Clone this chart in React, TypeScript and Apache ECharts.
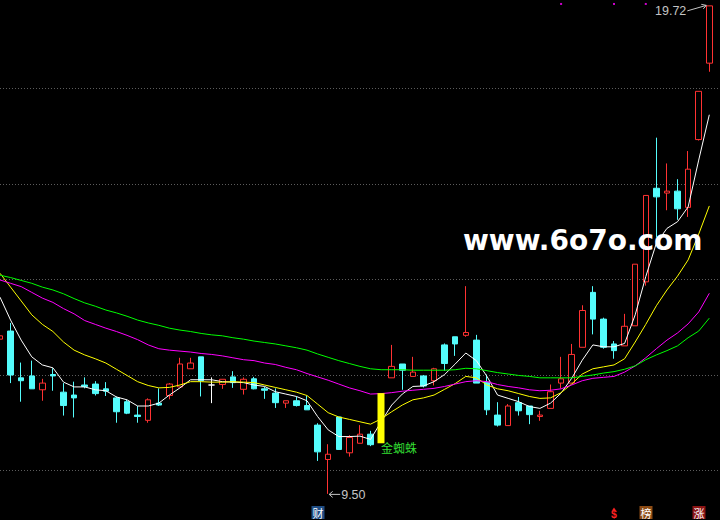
import React, { useEffect, useRef } from "react";
import * as echarts from "echarts";

const days = Array.from({ length: 68 }, (_, i) => String(i + 1));

const opens = [12.74,12.91,11.93,11.97,11.68,12.00,11.63,11.57,11.78,11.80,11.70,11.51,11.43,11.15,11.04,11.40,11.56,11.74,12.12,12.37,11.78,11.79,11.95,11.69,11.91,11.70,11.61,11.40,11.45,11.35,10.94,10.22,11.11,10.36,10.56,10.75,10.56,11.93,12.22,11.96,11.97,11.87,12.62,12.79,12.82,12.72,11.84,11.15,10.93,11.41,11.34,11.12,11.29,11.82,11.82,12.57,13.72,13.16,12.64,12.60,13.02,13.94,15.90,15.80,15.84,15.50,16.92,18.52];
const closes = [12.81,11.99,11.87,11.70,11.82,11.97,11.35,11.51,11.75,11.60,11.65,11.22,11.19,11.12,11.47,11.36,11.80,12.22,12.24,11.87,11.78,11.90,11.83,11.90,11.70,11.67,11.41,11.45,11.35,11.26,10.38,10.33,10.43,10.68,10.75,10.53,11.61,12.17,12.09,12.05,11.76,12.12,12.23,12.64,12.88,11.82,11.26,10.94,11.34,11.24,11.16,11.15,11.64,11.91,12.42,13.34,13.16,12.57,12.50,13.01,14.31,15.75,15.72,15.84,15.47,16.30,17.93,19.72];
const lows = [12.72,11.82,11.43,11.70,11.45,11.66,11.14,11.10,11.71,11.56,11.55,10.99,11.17,10.99,10.99,11.34,11.48,11.74,12.12,11.54,11.40,11.70,11.72,11.58,11.69,11.49,11.30,11.30,11.33,11.26,10.19,9.50,10.43,10.28,10.56,10.50,10.56,11.93,11.68,11.96,11.73,11.77,12.08,12.39,12.79,11.82,11.15,10.91,10.93,11.14,10.96,11.03,11.29,11.71,11.82,12.57,12.84,12.54,12.33,12.60,13.02,13.86,14.87,15.44,15.24,15.30,16.90,18.34];
const highs = [12.83,13.08,12.25,12.29,11.91,12.13,11.82,11.85,11.94,11.86,11.84,11.54,11.47,11.34,11.50,11.71,11.82,12.35,12.35,12.37,11.94,11.90,12.07,11.94,11.95,11.74,11.71,11.45,11.54,11.55,10.98,10.54,11.11,10.73,10.94,10.82,11.61,12.62,12.22,12.37,11.99,12.14,12.65,12.79,13.85,12.83,12.00,11.42,11.38,11.53,11.34,11.24,11.79,12.37,12.64,13.45,13.85,13.19,12.70,13.27,14.31,15.75,16.96,16.42,16.09,16.68,17.93,19.72];

const ma5 = [13.62,13.14,12.72,12.37,12.20,12.14,11.84,11.74,11.74,11.68,11.66,11.53,11.47,11.34,11.34,11.40,11.57,11.72,11.89,11.89,11.89,11.85,11.84,11.83,11.78,11.75,11.64,11.59,11.54,11.45,11.12,10.84,10.70,10.70,10.71,10.64,11.01,11.36,11.59,11.75,11.76,11.85,12.00,12.22,12.45,12.29,11.96,11.57,11.50,11.43,11.33,11.29,11.40,11.61,11.92,12.30,12.62,12.58,12.58,12.65,13.25,14.05,14.75,15.06,15.20,15.51,16.49,17.44];
const ma10 = [14.12,13.83,13.54,13.25,13.05,12.90,12.68,12.51,12.41,12.33,12.24,12.11,11.98,11.85,11.77,11.72,11.73,11.78,11.85,11.85,11.84,11.84,11.85,11.84,11.83,11.78,11.73,11.68,11.63,11.56,11.38,11.20,11.11,11.06,11.01,10.96,11.07,11.22,11.36,11.47,11.51,11.57,11.69,11.81,11.96,11.93,11.78,11.70,11.66,11.60,11.54,11.50,11.51,11.62,11.80,12.01,12.12,12.16,12.20,12.33,12.68,13.05,13.44,13.77,14.06,14.40,14.94,15.53];
const ma20 = [13.98,13.91,13.84,13.72,13.60,13.51,13.38,13.27,13.13,13.05,12.97,12.90,12.82,12.73,12.62,12.54,12.51,12.49,12.47,12.44,12.42,12.39,12.35,12.31,12.29,12.24,12.21,12.15,12.10,12.02,11.95,11.88,11.80,11.72,11.66,11.59,11.60,11.62,11.65,11.67,11.69,11.71,11.75,11.80,11.85,11.87,11.85,11.79,11.75,11.72,11.68,11.66,11.67,11.70,11.78,11.87,11.92,11.94,11.96,12.05,12.18,12.35,12.54,12.72,12.87,13.06,13.31,13.70];
const ma60 = [14.08,14.03,13.97,13.91,13.83,13.77,13.69,13.59,13.50,13.43,13.35,13.29,13.22,13.14,13.08,13.03,12.97,12.93,12.90,12.86,12.83,12.81,12.77,12.74,12.70,12.67,12.64,12.60,12.56,12.51,12.43,12.36,12.29,12.23,12.17,12.12,12.10,12.10,12.10,12.09,12.09,12.09,12.09,12.10,12.13,12.12,12.08,12.04,12.01,11.98,11.96,11.93,11.93,11.93,11.93,11.96,11.99,12.03,12.06,12.11,12.18,12.31,12.41,12.50,12.60,12.77,12.91,13.18];

const gridLevels = [10, 12, 14, 16, 18];
const dojiIndex = 20;
const signalIndex = 36;
const signalText = "金蜘蛛";
const topMarks = [53, 58, 61];
const topMarkValue = 19.76;
const highIndex = 67;
const highLabel = "19.72";
const lowIndex = 31;
const lowLabel = "9.50";
const badges = [
  { idx: 30, text: "财", bg: "#1f4d84", color: "#ffffff" },
  { idx: 58, text: "$", bg: "", color: "#ff2020" },
  { idx: 61, text: "榜", bg: "#8b4a14", color: "#ffffff" },
  { idx: 66, text: "涨", bg: "#8c1414", color: "#ffffff" },
];
const watermark = "www.6o7o.com";

const UP = "#ff3232";
const DOWN = "#54fcfc";
const W = 720;
const H = 520;

export default function App() {
  const ref = useRef<HTMLDivElement>(null);
  useEffect(() => {
    document.body.style.margin = "0";
    document.body.style.background = "#000";
    const chart = echarts.init(ref.current!, undefined, { renderer: "svg", width: W, height: H });
    const candleData = opens.map((o, i) => {
      const c = closes[i];
      let style: any;
      if (i === signalIndex) style = { opacity: 0 };
      else if (i === dojiIndex) style = { color: "#fff", color0: "#fff", borderColor: "#fff", borderColor0: "#fff", borderColorDoji: "#fff" };
      else if (c >= o) style = { color: "#000", color0: "#000", borderColor: UP, borderColor0: UP, borderColorDoji: UP };
      else style = { color: DOWN, color0: DOWN, borderColor: DOWN, borderColor0: DOWN, borderColorDoji: DOWN };
      return { value: [o, c, lows[i], highs[i]], itemStyle: style };
    });
    const signalData = opens.map((o, i) =>
      i === signalIndex ? { value: [o, closes[i], o, closes[i]] } : "-"
    );
    const lineSeries = (data: number[], color: string) => ({
      type: "line",
      data,
      showSymbol: false,
      symbol: "none",
      lineStyle: { color, width: 1 },
      silent: true,
      z: 3,
    });
    chart.setOption({
      animation: false,
      backgroundColor: "#000",
      grid: { left: 0, right: 10.7, top: 2.05, bottom: 2.25 },
      xAxis: { type: "category", data: days, boundaryGap: false, show: false },
      yAxis: { type: "value", min: 9, max: 19.8, show: false, splitLine: { show: false } },
      series: [
        {
          type: "candlestick",
          data: candleData,
          barWidth: 6,
          z: 2,
          itemStyle: { color: "#000", color0: DOWN, borderColor: UP, borderColor0: DOWN, borderColorDoji: UP, borderWidth: 1 },
        },
        lineSeries(ma5, "#ffffff"),
        lineSeries(ma10, "#ffff00"),
        lineSeries(ma20, "#ff00ff"),
        lineSeries(ma60, "#00ff00"),
        {
          type: "candlestick",
          data: signalData,
          barWidth: 7,
          z: 4,
          itemStyle: { color: "#ffff00", color0: "#ffff00", borderColor: "#ffff00", borderColor0: "#ffff00", borderWidth: 0 },
        },
        {
          type: "scatter",
          data: topMarks.map((i) => [i, topMarkValue]),
          symbol: "rect",
          symbolSize: 2,
          itemStyle: { color: "#ff00ff" },
          z: 4,
        },
      ],
    });

    const px = (i: number, v: number) => chart.convertToPixel({ gridIndex: 0 }, [i, v]) as number[];
    const g: any[] = [];
    gridLevels.forEach((v) => {
      const y = Math.round(px(0, v)[1]) + 0.5;
      g.push({ type: "line", z: 0, silent: true, shape: { x1: 0, y1: y, x2: W, y2: y }, style: { stroke: "#5c5c5c", lineWidth: 1, lineDash: [1, 2] } });
    });
    const gray = "#c4c4c4";
    const hp = px(highIndex, highs[highIndex]);
    g.push({ type: "text", z: 10, x: hp[0] - 23, y: hp[1] + 5, style: { text: highLabel, fill: gray, font: '12.5px "Liberation Sans"', align: "right", verticalAlign: "middle" } });
    g.push({ type: "line", z: 10, shape: { x1: hp[0] - 22, y1: hp[1] + 5, x2: hp[0] - 3, y2: hp[1] - 0.5 }, style: { stroke: gray, lineWidth: 1 } });
    g.push({ type: "polyline", z: 10, shape: { points: [[hp[0] - 8, hp[1] - 1.5], [hp[0] - 3, hp[1] - 0.5], [hp[0] - 6, hp[1] + 3]] }, style: { stroke: gray, lineWidth: 1, fill: "none" } });

    const lp = px(lowIndex, lows[lowIndex]);
    g.push({ type: "line", z: 10, shape: { x1: lp[0] + 1, y1: lp[1] + 0.5, x2: lp[0] + 12, y2: lp[1] + 0.5 }, style: { stroke: gray, lineWidth: 1 } });
    g.push({ type: "polyline", z: 10, shape: { points: [[lp[0] + 4.5, lp[1] - 2.5], [lp[0] + 1, lp[1] + 0.5], [lp[0] + 4.5, lp[1] + 3.5]] }, style: { stroke: gray, lineWidth: 1, fill: "none" } });
    g.push({ type: "text", z: 10, x: lp[0] + 13, y: lp[1] + 1.5, style: { text: lowLabel, fill: gray, font: '12.5px "Liberation Sans"', align: "left", verticalAlign: "middle" } });

    const sp = px(signalIndex, opens[signalIndex]);
    g.push({ type: "text", z: 10, x: sp[0], y: sp[1] - 2, style: { text: signalText, fill: "#33dd33", font: '12px "Noto Sans CJK SC"', align: "left", verticalAlign: "top" } });

    badges.forEach((b) => {
      const cx = Math.round(px(b.idx, 10)[0]);
      if (b.bg) {
        g.push({ type: "rect", z: 10, shape: { x: cx - 6.5, y: 506, width: 13, height: 13 }, style: { fill: b.bg } });
        g.push({ type: "text", z: 11, x: cx, y: 512.5, style: { text: b.text, fill: b.color, font: '11px "Noto Sans CJK SC"', align: "center", verticalAlign: "middle" } });
      } else {
        g.push({ type: "polygon", z: 10, shape: { points: [[cx - 2, 510.5], [cx + 2, 510.5], [cx, 507.5]] }, style: { fill: b.color } });
        g.push({ type: "text", z: 11, x: cx, y: 514, style: { text: b.text, fill: b.color, font: 'bold 10.5px "Liberation Sans"', align: "center", verticalAlign: "middle" } });
      }
    });

    g.push({ type: "text", z: 20, x: 463, y: 240, style: { text: watermark, fill: "#ffffff", font: 'bold 28px "DejaVu Sans"', align: "left", verticalAlign: "middle" } });

    chart.setOption({ graphic: { elements: g } });
    return () => chart.dispose();
  }, []);
  return <div ref={ref} style={{ position: "absolute", left: 0, top: 0, width: W, height: H, background: "#000" }} />;
}
